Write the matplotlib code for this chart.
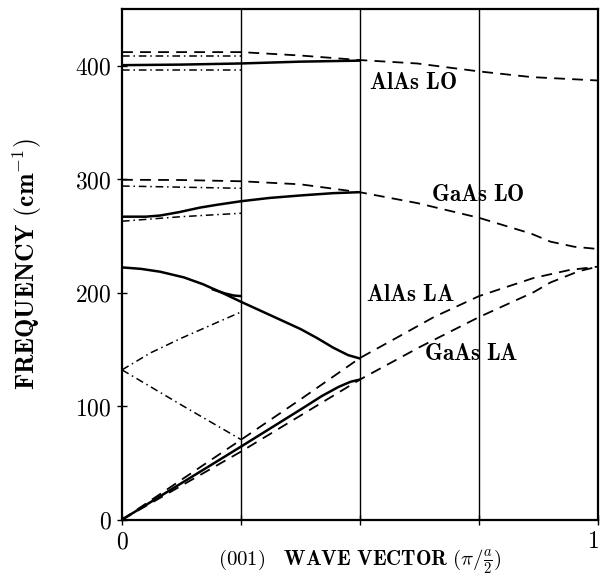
import matplotlib
matplotlib.use("Agg")
import matplotlib.pyplot as plt
from matplotlib.transforms import ScaledTranslation

plt.rcParams['mathtext.fontset'] = 'cm'
plt.rcParams['font.family'] = 'serif'
plt.rcParams['font.serif'] = ['DejaVu Serif']

# ---- data (wave vector in units of pi/(a/2), frequency in cm^-1) ----
# AlAs LO band region
alas_lo_dashed_x = [0.0, 0.125, 0.25, 0.375, 0.5, 0.62, 0.75, 0.86, 1.0]
alas_lo_dashed_y = [412, 412, 412, 409, 405, 402, 395, 390, 387]
alas_lo_dd1_x = [0.0, 0.25]
alas_lo_dd1_y = [409, 409]
alas_lo_solid_x = [0.0, 0.125, 0.25, 0.375, 0.5]
alas_lo_solid_y = [400.5, 401, 402, 403.6, 404.5]
alas_lo_dd2_x = [0.0, 0.25]
alas_lo_dd2_y = [396, 396]

# GaAs LO band region
gaas_lo_dashed_x = [0.0, 0.125, 0.25, 0.375, 0.5, 0.62, 0.75, 0.86, 0.9, 0.95, 1.0]
gaas_lo_dashed_y = [299.5, 299.3, 298.2, 295.5, 288.5, 279, 266, 252, 245, 240.5, 238.5]
gaas_lo_dd1_x = [0.0, 0.25]
gaas_lo_dd1_y = [294, 292]
gaas_lo_solid_x = [0.0, 0.05, 0.08, 0.12, 0.164, 0.2, 0.25, 0.31, 0.375, 0.443, 0.5]
gaas_lo_solid_y = [267, 267, 268, 271, 275, 277.5, 280.6, 283.5, 285.7, 287.7, 288.6]
gaas_lo_dd2_x = [0.0, 0.125, 0.25]
gaas_lo_dd2_y = [263, 267, 270]

# AlAs LA (folded) branches
alas_la_solid_x = [0.0, 0.04, 0.08, 0.13, 0.17, 0.21, 0.25, 0.31, 0.375, 0.41, 0.444, 0.475, 0.5]
alas_la_solid_y = [222.3, 221, 218.5, 213.5, 207.5, 200, 192, 180.5, 168, 160, 151.5, 145, 142]
alas_la_branch_x = [0.19, 0.215, 0.235, 0.25]
alas_la_branch_y = [203, 199.5, 197.5, 197]
fold_dd_up_x = [0.0, 0.06, 0.125, 0.19, 0.25]
fold_dd_up_y = [132, 147, 160, 172, 183]
fold_dd_down_x = [0.0, 0.125, 0.25]
fold_dd_down_y = [132, 101, 70.6]

# acoustic branches
la_upper_dashed_x = [0.0, 0.25, 0.375, 0.5, 0.58, 0.655, 0.75, 0.865, 0.94, 1.0]
la_upper_dashed_y = [0, 70.4, 106, 142.5, 161, 178.5, 197, 213, 220, 223]
la_solid_x = [0.0, 0.25, 0.375, 0.42, 0.455, 0.48, 0.5]
la_solid_y = [0, 64.4, 97, 109, 117, 121.5, 123.5]
la_lower_dashed_x = [0.0, 0.25, 0.5, 0.625, 0.75, 0.865, 0.9, 0.96, 1.0]
la_lower_dashed_y = [0, 60, 123.5, 152, 178.5, 200.5, 209, 219, 223]

zone_lines = [0.25, 0.5, 0.75]
yticks = [0, 100, 200, 300, 400]
xtick_pos = [0, 0.25, 0.5, 0.75, 1]
xtick_lab = ['0', '', '', '', '1']

labels = [("AlAs LO", 0.518, 385), ("GaAs LO", 0.65, 286),
          ("AlAs LA", 0.512, 198), ("GaAs LA", 0.634, 146)]

# ---- figure ----
fig = plt.figure(figsize=(6.01, 5.80), dpi=100)
ax = fig.add_axes([0.203, 0.104, 0.792, 0.8805])

for xv in zone_lines:
    ax.axvline(xv, color='black', lw=1.0, zorder=1)

DASH = (0, (6, 4))
DD = (0, (5, 2.5, 1, 2.5))
kw_s = dict(color='black', lw=1.8, solid_capstyle='round', solid_joinstyle='round', zorder=3)
kw_d = dict(color='black', lw=1.3, linestyle=DASH, zorder=3)
kw_dd = dict(color='black', lw=1.1, linestyle=DD, zorder=3)

ax.plot(alas_lo_dashed_x, alas_lo_dashed_y, **kw_d)
ax.plot(alas_lo_dd1_x, alas_lo_dd1_y, **kw_dd)
ax.plot(alas_lo_solid_x, alas_lo_solid_y, **kw_s)
ax.plot(alas_lo_dd2_x, alas_lo_dd2_y, **kw_dd)

ax.plot(gaas_lo_dashed_x, gaas_lo_dashed_y, **kw_d)
ax.plot(gaas_lo_dd1_x, gaas_lo_dd1_y, **kw_dd)
ax.plot(gaas_lo_solid_x, gaas_lo_solid_y, **kw_s)
ax.plot(gaas_lo_dd2_x, gaas_lo_dd2_y, **kw_dd)

ax.plot(alas_la_solid_x, alas_la_solid_y, **kw_s)
ax.plot(alas_la_branch_x, alas_la_branch_y, **kw_s)
ax.plot(fold_dd_up_x, fold_dd_up_y, **kw_dd)
ax.plot(fold_dd_down_x, fold_dd_down_y, **kw_dd)

ax.plot(la_upper_dashed_x, la_upper_dashed_y, **kw_d)
ax.plot(la_solid_x, la_solid_y, **kw_s)
ax.plot(la_lower_dashed_x, la_lower_dashed_y, **kw_d)

for txt, xv, yv in labels:
    ax.text(xv, yv, r'$\mathbf{' + txt.replace(' ', r'\ ') + '}$',
            fontsize=16.5, ha='left', va='center')

ax.set_xlim(0, 1)
ax.set_ylim(0, 450)
ax.set_yticks(yticks)
ax.set_yticklabels([r'$\mathbf{%d}$' % v for v in yticks])
ax.set_xticks(xtick_pos)
ax.set_xticklabels([r'$\mathbf{%s}$' % s if s else '' for s in xtick_lab])
ax.tick_params(axis='both', direction='inout', length=7, width=1.0,
               labelsize=17, pad=4)
xl = ax.get_xticklabels()
xl[-1].set_transform(xl[-1].get_transform() + ScaledTranslation(-5 / 100, 0, fig.dpi_scale_trans))
for sp in ax.spines.values():
    sp.set_linewidth(1.6)

ax.set_ylabel(r'$\mathbf{FREQUENCY\ (cm}^{-1}\mathbf{)}$', fontsize=18.5)
ax.yaxis.set_label_coords(-0.163, 0.5)
ax.set_xlabel(r'$\mathrm{(001)}\ \ \ \mathbf{WAVE\ VECTOR}\ (\pi/\frac{a}{2})$',
              fontsize=15)
ax.xaxis.set_label_coords(0.5, -0.09)
ax.xaxis.label.set_va('baseline')

fig.savefig('out.png', dpi=100)
